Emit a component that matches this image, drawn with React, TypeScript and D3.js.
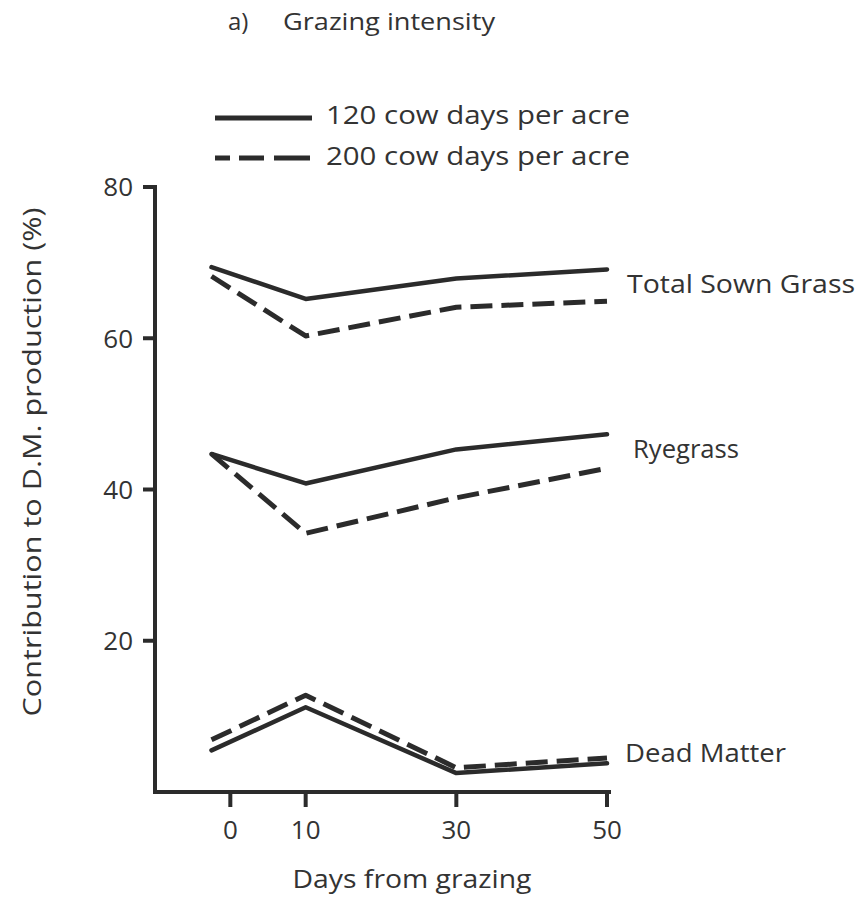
import React from "react";
import * as d3 from "d3";

const days = [-2.5, 10, 30, 50];
const totalSown120 = [69.4, 65.2, 67.9, 69.1];
const totalSown200 = [68.2, 60.3, 64.1, 64.9];
const ryegrass120 = [44.7, 40.8, 45.3, 47.3];
const ryegrass200 = [44.7, 34.2, 38.9, 42.8];
const dead120 = [5.5, 11.2, 2.5, 3.8];
const dead200 = [6.9, 12.8, 3.2, 4.5];

const xTicks = [0, 10, 30, 50];
const yTicks = [20, 40, 60, 80];

const seriesLabels = ["Total Sown Grass", "Ryegrass", "Dead Matter"];
const legendLabels = ["120 cow days per acre", "200 cow days per acre"];

const W = 861;
const H = 897;
const INK = "#2b2b2b";
const TXT = "#333333";
const FONT = "'Open Sans', 'DejaVu Sans', sans-serif";

export default function App() {
  const x = d3.scaleLinear().domain([-10, 50]).range([155, 607]);
  const y = d3.scaleLinear().domain([0, 80]).range([792, 187]);

  const line = d3
    .line<number>()
    .x((_, i) => x(days[i]))
    .y((d) => y(d))
    .curve(d3.curveLinear);

  const solid = [totalSown120, ryegrass120, dead120];
  const dashed = [totalSown200, ryegrass200, dead200];

  const labelPos = [
    { x: 627, y: 293, w: 228 },
    { x: 633, y: 458, w: 106 },
    { x: 625, y: 762, w: 161 },
  ];

  return (
    <svg
      width={W}
      height={H}
      viewBox={`0 0 ${W} ${H}`}
      style={{ position: "absolute", left: 0, top: 0, background: "#fff" }}
      fontFamily={FONT}
    >
      <rect x={0} y={0} width={W} height={H} fill="#fff" />
      {/* Title */}
      <text x={228} y={30} fontSize={24} fill={TXT}>
        a)
      </text>
      <text x={283} y={30} fontSize={24} fill={TXT} textLength={212} lengthAdjust="spacingAndGlyphs">
        Grazing intensity
      </text>

      {/* Legend */}
      <line x1={215} x2={312} y1={118} y2={118} stroke={INK} strokeWidth={5} />
      <text x={326} y={124} fontSize={26} fill={TXT} textLength={304} lengthAdjust="spacingAndGlyphs">
        {legendLabels[0]}
      </text>
      <line
        x1={215}
        x2={310}
        y1={158}
        y2={158}
        stroke={INK}
        strokeWidth={5}
        strokeDasharray="15 9 25 10 36"
      />
      <text x={326} y={165} fontSize={26} fill={TXT} textLength={304} lengthAdjust="spacingAndGlyphs">
        {legendLabels[1]}
      </text>

      {/* Axes */}
      <line x1={x(-10)} x2={x(-10)} y1={y(80)} y2={y(0)} stroke={INK} strokeWidth={4} strokeLinecap="square" />
      <line x1={x(-10)} x2={x(50) + 2} y1={y(0)} y2={y(0)} stroke={INK} strokeWidth={4} strokeLinecap="square" />
      {yTicks.map((t) => (
        <g key={"y" + t}>
          <line x1={x(-10) - 12} x2={x(-10)} y1={y(t)} y2={y(t)} stroke={INK} strokeWidth={4} />
          <text x={133} y={y(t)} dy="0.36em" textAnchor="end" fontSize={26} fill={TXT}>
            {t}
          </text>
        </g>
      ))}
      {xTicks.map((t) => (
        <g key={"x" + t}>
          <line x1={x(t)} x2={x(t)} y1={y(0)} y2={y(0) + 15} stroke={INK} strokeWidth={4} />
          <text x={x(t)} y={839} textAnchor="middle" fontSize={26} fill={TXT}>
            {t}
          </text>
        </g>
      ))}

      {/* Axis titles */}
      <text x={412} y={888} textAnchor="middle" fontSize={25} fill={TXT} textLength={239} lengthAdjust="spacingAndGlyphs">
        Days from grazing
      </text>
      <text
        transform={`translate(41, 462) rotate(-90)`}
        textAnchor="middle"
        fontSize={25}
        fill={TXT}
        textLength={509}
        lengthAdjust="spacingAndGlyphs"
      >
        Contribution to D.M. production (%)
      </text>

      {/* Lines */}
      {solid.map((s, i) => (
        <path
          key={"s" + i}
          d={line(s) || ""}
          fill="none"
          stroke={INK}
          strokeWidth={4.5}
          strokeLinejoin="round"
          strokeLinecap="round"
        />
      ))}
      {dashed.map((s, i) => (
        <path
          key={"d" + i}
          d={line(s) || ""}
          fill="none"
          stroke={INK}
          strokeWidth={5}
          strokeDasharray="22 9"
          strokeLinejoin="round"
        />
      ))}

      {/* Series labels */}
      {seriesLabels.map((l, i) => (
        <text
          key={l}
          x={labelPos[i].x}
          y={labelPos[i].y}
          fontSize={25}
          fill={TXT}
          textLength={labelPos[i].w}
          lengthAdjust="spacingAndGlyphs"
        >
          {l}
        </text>
      ))}
    </svg>
  );
}
